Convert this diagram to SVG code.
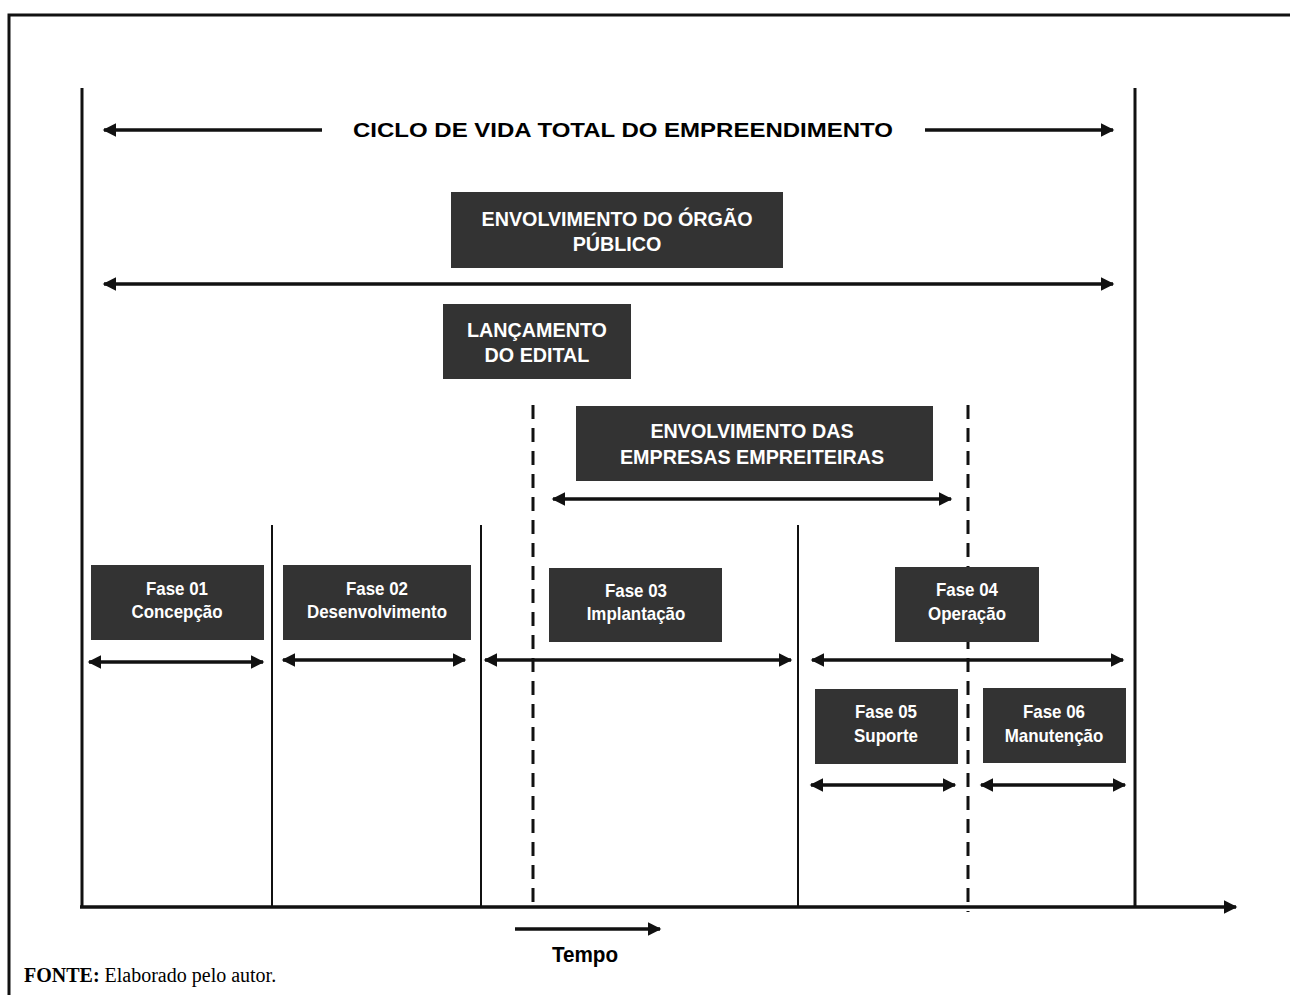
<svg xmlns="http://www.w3.org/2000/svg" width="1290" height="995" viewBox="0 0 1290 995">
<style>
  .frame{fill:none;stroke:#111;stroke-width:3}
  .axis{stroke:#111;stroke-width:3;fill:none}
  .sep{stroke:#111;stroke-width:2}
  .dash{stroke:#111;stroke-width:3;stroke-dasharray:14,9}
  .arr{stroke:#111;stroke-width:3.5;fill:none;marker-start:url(#head);marker-end:url(#head)}
  .arr1{stroke:#111;stroke-width:3.5;fill:none;marker-end:url(#head)}
  .box{fill:#333}
  .bt{fill:#fff;font-family:"Liberation Sans Narrow","Liberation Sans",Arial,sans-serif;font-weight:bold;text-anchor:middle}
  .big{font-size:21px}
  .sm{font-size:18px}
  .lbl{fill:#000;font-family:"Liberation Sans",Arial,sans-serif;font-weight:bold;font-size:21px;text-anchor:middle}
  .tempo{fill:#000;font-family:"Liberation Sans Narrow","Liberation Sans",Arial,sans-serif;font-weight:bold;font-size:22px;text-anchor:middle}
  .src{fill:#000;font-family:"Liberation Serif","Times New Roman",serif;font-size:20px}
</style>
<defs>
  <marker id="head" viewBox="0 0 10 10" refX="9" refY="5" markerWidth="4.4" markerHeight="3.8" orient="auto-start-reverse" markerUnits="strokeWidth">
    <path d="M0,0 L10,5 L0,10 Z" fill="#111"/>
  </marker>
</defs>

<!-- outer frame -->
<path class="frame" d="M9,995 V15 H1290"/>

<!-- axes, phase separators and span arrows -->
<g id="connectors">
  <line class="axis" x1="82" y1="88" x2="82" y2="907"/>
  <line class="arr1" x1="80" y1="907" x2="1236" y2="907"/>
  <line class="sep" x1="272" y1="525" x2="272" y2="907"/>
  <line class="sep" x1="481" y1="525" x2="481" y2="907"/>
  <line class="sep" x1="798" y1="525" x2="798" y2="907"/>
  <line class="axis" x1="1135" y1="88" x2="1135" y2="907"/>
  <line class="dash" x1="533" y1="405" x2="533" y2="907"/>
  <line class="dash" x1="968" y1="405" x2="968" y2="912"/>

  <line class="arr1" x1="322" y1="130" x2="104" y2="130"/>
  <line class="arr1" x1="925" y1="130" x2="1113" y2="130"/>
  <line class="arr" x1="104" y1="284" x2="1113" y2="284"/>
  <line class="arr" x1="553" y1="499" x2="951" y2="499"/>
  <line class="arr" x1="89" y1="662" x2="263" y2="662"/>
  <line class="arr" x1="283" y1="660" x2="465" y2="660"/>
  <line class="arr" x1="485" y1="660" x2="791" y2="660"/>
  <line class="arr" x1="812" y1="660" x2="1123" y2="660"/>
  <line class="arr" x1="811" y1="785" x2="955" y2="785"/>
  <line class="arr" x1="981" y1="785" x2="1125" y2="785"/>
  <line class="arr1" x1="515" y1="929" x2="660" y2="929"/>
</g>

<text class="lbl" x="623" y="137" textLength="540" lengthAdjust="spacingAndGlyphs">CICLO DE VIDA TOTAL DO EMPREENDIMENTO</text>

<g id="orgao">
  <rect class="box" x="451" y="192" width="332" height="76"/>
  <text class="bt big" transform="translate(617,226) scale(0.94,1)">ENVOLVIMENTO DO ÓRGÃO</text>
  <text class="bt big" transform="translate(617,251) scale(0.94,1)">PÚBLICO</text>
</g>

<g id="edital">
  <rect class="box" x="443" y="304" width="188" height="75"/>
  <text class="bt big" transform="translate(537,337) scale(0.94,1)">LANÇAMENTO</text>
  <text class="bt big" transform="translate(537,362) scale(0.94,1)">DO EDITAL</text>
</g>

<g id="empreiteiras">
  <rect class="box" x="576" y="406" width="357" height="75"/>
  <text class="bt big" transform="translate(752,438) scale(0.94,1)">ENVOLVIMENTO DAS</text>
  <text class="bt big" transform="translate(752,464) scale(0.94,1)">EMPRESAS EMPREITEIRAS</text>
</g>

<g id="fase01">
  <rect class="box" x="91" y="565" width="173" height="75"/>
  <text class="bt sm" transform="translate(177,595) scale(0.94,1)">Fase 01</text>
  <text class="bt sm" transform="translate(177,618) scale(0.94,1)">Concepção</text>
</g>

<g id="fase02">
  <rect class="box" x="283" y="565" width="188" height="75"/>
  <text class="bt sm" transform="translate(377,595) scale(0.94,1)">Fase 02</text>
  <text class="bt sm" transform="translate(377,618) scale(0.94,1)">Desenvolvimento</text>
</g>

<g id="fase03">
  <rect class="box" x="549" y="568" width="173" height="74"/>
  <text class="bt sm" transform="translate(636,597) scale(0.94,1)">Fase 03</text>
  <text class="bt sm" transform="translate(636,620) scale(0.94,1)">Implantação</text>
</g>

<g id="fase04">
  <rect class="box" x="895" y="567" width="144" height="75"/>
  <text class="bt sm" transform="translate(967,596) scale(0.94,1)">Fase 04</text>
  <text class="bt sm" transform="translate(967,620) scale(0.94,1)">Operação</text>
</g>

<g id="fase05">
  <rect class="box" x="815" y="689" width="143" height="75"/>
  <text class="bt sm" transform="translate(886,718) scale(0.94,1)">Fase 05</text>
  <text class="bt sm" transform="translate(886,742) scale(0.94,1)">Suporte</text>
</g>

<g id="fase06">
  <rect class="box" x="983" y="688" width="143" height="75"/>
  <text class="bt sm" transform="translate(1054,718) scale(0.94,1)">Fase 06</text>
  <text class="bt sm" transform="translate(1054,742) scale(0.94,1)">Manutenção</text>
</g>

<text class="tempo" transform="translate(585,962) scale(0.94,1)">Tempo</text>
<text class="src" x="24" y="982"><tspan font-weight="bold">FONTE:</tspan> Elaborado pelo autor.</text>
</svg>
